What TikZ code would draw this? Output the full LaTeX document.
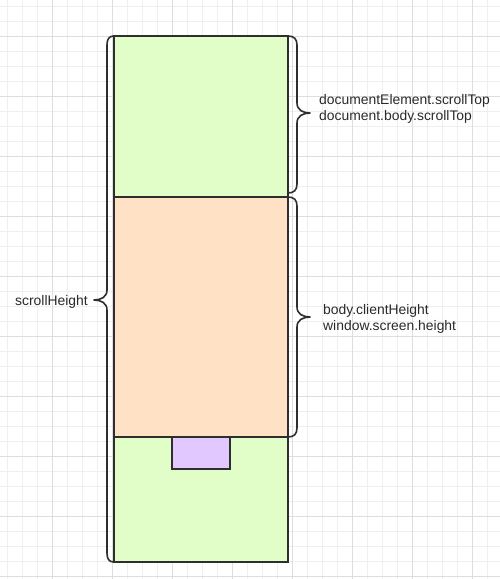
\documentclass[tikz,border=0pt]{standalone}
\usepackage{fontspec}
\setmainfont{Liberation Sans}
\definecolor{gridminor}{HTML}{EFEFEF}
\definecolor{gridmajor}{HTML}{DEDEDE}
\definecolor{stroke}{HTML}{2E2E2E}
\definecolor{txt}{HTML}{2A2A2A}
\definecolor{pagegreen}{HTML}{E2FEC8}
\definecolor{pageorange}{HTML}{FFE1C6}
\definecolor{pagepurple}{HTML}{E1C8FF}
\begin{document}
\begin{tikzpicture}[x=1pt,y=-1pt,
  box/.style={draw=stroke,line width=1.6pt},
  brace/.style={draw=stroke,line width=1.6pt,line cap=round,line join=round},
  lbl/.style={text=txt,font=\fontsize{13.9}{16}\selectfont,inner sep=0pt}]
\useasboundingbox (0,0) rectangle (500,579);
\fill[white] (0,0) rectangle (500,579);
% grid
\foreach \i in {0,...,33} {\draw[gridminor,line width=1pt] (7+15*\i,0) -- (7+15*\i,579);}
\foreach \j in {0,...,38} {\draw[gridminor,line width=1pt] (0,6+15*\j) -- (500,6+15*\j);}
\foreach \i in {0,...,7} {\draw[gridmajor,line width=1pt] (52+60*\i,0) -- (52+60*\i,579);}
\foreach \j in {0,...,9} {\draw[gridmajor,line width=1pt] (0,36+60*\j) -- (500,36+60*\j);}
% page blocks
\filldraw[box,fill=pagegreen] (114,36) rectangle (288,562);
\filldraw[box,fill=pageorange] (114,197) rectangle (288,437);
\filldraw[box,fill=pagepurple] (172,437) rectangle (230,469);
% left brace
\draw[brace] (114,36) .. controls (109,36) and (107,39) .. (107,45)
  -- (107,290) .. controls (107,297) and (101,300) .. (94,300)
  .. controls (101,300) and (107,303) .. (107,310)
  -- (107,553) .. controls (107,559) and (109,562) .. (114,562);
% right brace 1
\draw[brace] (288,36) .. controls (294,36) and (297,39) .. (297,45)
  -- (297,103) .. controls (297,110) and (303,113) .. (310,113)
  .. controls (303,113) and (297,116) .. (297,123)
  -- (297,184) .. controls (297,190) and (294,193) .. (288,193);
% right brace 2
\draw[brace] (288,197) .. controls (294,197) and (297,200) .. (297,206)
  -- (297,307) .. controls (297,314) and (303,317) .. (310,317)
  .. controls (303,317) and (297,320) .. (297,327)
  -- (297,428) .. controls (297,434) and (294,437) .. (288,437);
% labels
\node[lbl,anchor=base west] (top1) at (319,104) {documentElement.scrollTop};
\node[lbl,anchor=base west] (top2) at (319,120) {document.body.scrollTop};
\node[lbl,anchor=base west] (client1) at (323,314) {body.clientHeight};
\node[lbl,anchor=base west] (client2) at (323,330) {window.screen.height};
\node[lbl,anchor=base east] (sh) at (88,305) {scrollHeight};
\end{tikzpicture}
\end{document}
